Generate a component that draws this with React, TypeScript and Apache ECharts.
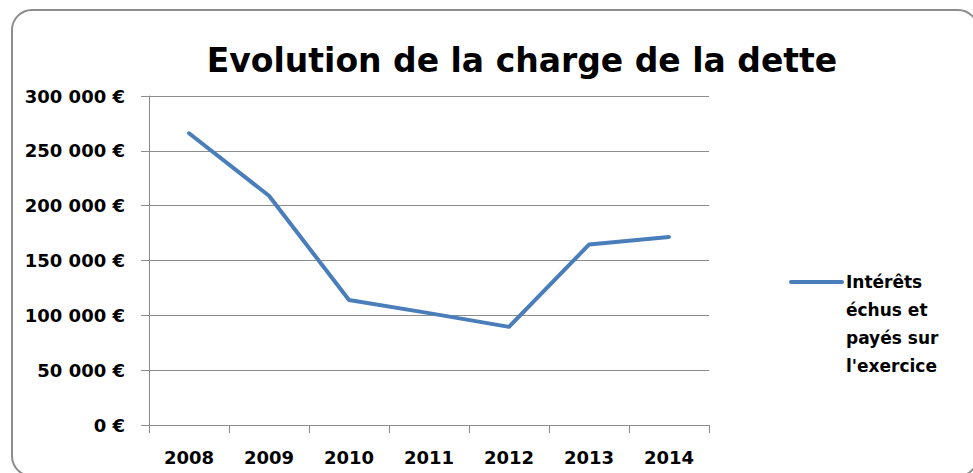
import React, { useEffect, useRef } from "react";
import * as echarts from "echarts";

const categories = ["2008", "2009", "2010", "2011", "2012", "2013", "2014"];
const interets = [266000, 209000, 114000, 102000, 89500, 164500, 171500];
const seriesName = "Intérêts échus et payés sur l'exercice";
const legendLines = ["Intérêts", "échus et", "payés sur", "l'exercice"];
const titleText = "Evolution de la charge de la dette";

const FONT = "DejaVu Sans";
const GRAY = "#8c8c8c";
const BLUE = "#4a7ebb";

function fmtEuro(v: number): string {
  const s = String(Math.round(v));
  const parts: string[] = [];
  for (let i = s.length; i > 0; i -= 3) parts.unshift(s.slice(Math.max(0, i - 3), i));
  return parts.join(" ") + " €";
}

export default function App() {
  const ref = useRef<HTMLDivElement>(null);
  useEffect(() => {
    if (!ref.current) return;
    const chart = echarts.init(ref.current, null, { renderer: "svg" });
    chart.setOption({
      animation: false,
      backgroundColor: "#ffffff",
      title: {
        text: titleText,
        left: 517,
        textAlign: "center",
        top: 39,
        textStyle: { fontFamily: FONT, fontWeight: "bold", fontSize: 33, color: "#000" },
      },
      grid: { left: 149, right: 264, top: 96, bottom: 48, containLabel: false },
      xAxis: {
        type: "category",
        data: categories,
        boundaryGap: true,
        axisLine: { show: true, lineStyle: { color: GRAY, width: 1 } },
        axisTick: { show: true, length: 8, lineStyle: { color: GRAY } },
        axisLabel: { margin: 23, fontFamily: FONT, fontWeight: "bold", fontSize: 18, color: "#000" },
      },
      yAxis: {
        type: "value",
        min: 0,
        max: 300000,
        interval: 50000,
        axisLine: { show: true, lineStyle: { color: GRAY, width: 1 } },
        axisTick: { show: true, length: 8, lineStyle: { color: GRAY } },
        splitLine: { show: true, lineStyle: { color: GRAY, width: 1 } },
        axisLabel: {
          margin: 24,
          fontFamily: FONT,
          fontWeight: "bold",
          fontSize: 18,
          color: "#000",
          formatter: (v: number) => fmtEuro(v),
        },
      },
      series: [
        {
          name: seriesName,
          type: "line",
          data: interets,
          symbol: "none",
          lineStyle: { color: BLUE, width: 4, cap: "round", join: "round" },
          itemStyle: { color: BLUE },
        },
      ],
      graphic: [
        {
          type: "rect",
          shape: { x: 12, y: 10, width: 966, height: 466, r: 20 },
          style: { fill: "none", stroke: GRAY, lineWidth: 2 },
          silent: true,
          z: 100,
        },
        {
          type: "line",
          shape: { x1: 791, y1: 282, x2: 842, y2: 282 },
          style: { stroke: BLUE, lineWidth: 4, lineCap: "round" },
        },
        {
          type: "text",
          x: 846,
          y: 268,
          style: {
            text: legendLines.join("\n"),
            fontFamily: FONT,
            fontWeight: "bold",
            fontSize: 17,
            lineHeight: 28,
            fill: "#000",
            textVerticalAlign: "top",
          },
        },
      ],
    });
    return () => chart.dispose();
  }, []);
  return (
    <div
      ref={ref}
      style={{ position: "fixed", left: 0, top: 0, width: 973, height: 473 }}
    />
  );
}
